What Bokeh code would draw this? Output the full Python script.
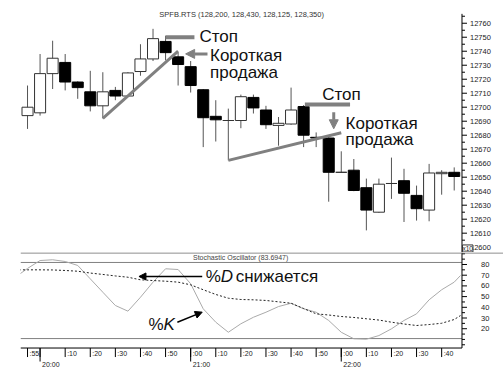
from bokeh.plotting import figure
from bokeh.layouts import column
from bokeh.models import (ColumnDataSource, Range1d, Span, Arrow, NormalHead, Label)
from bokeh.core.properties import value
from bokeh.embed import file_html
from bokeh.resources import INLINE

# ---------------- data ----------------
candle_times = ["19:55", "20:00", "20:05", "20:10", "20:15", "20:20", "20:25", "20:30",
                "20:35", "20:40", "20:45", "20:50", "20:55", "21:00", "21:05", "21:10",
                "21:15", "21:20", "21:25", "21:30", "21:35", "21:40", "21:45", "21:50",
                "21:55", "22:00", "22:05", "22:10", "22:15", "22:20", "22:25", "22:30",
                "22:35", "22:40", "22:45"]
opens = [12694, 12696, 12724, 12732, 12718, 12711, 12701, 12712, 12708, 12725.5, 12734.5,
         12747, 12736, 12729, 12712.5, 12693.5, 12690.5, 12690.5, 12707, 12698, 12687,
         12688, 12700.5, 12678.5, 12678, 12653.5, 12655, 12642.5, 12625, 12645.5, 12647.5,
         12637, 12626.5, 12652.5, 12653.5]
highs = [12715.5, 12738, 12747.5, 12738, 12718.5, 12726, 12725, 12714.5, 12725, 12745,
         12756, 12751, 12739, 12733, 12713, 12705, 12699, 12709, 12709, 12701, 12693,
         12714, 12701.5, 12682, 12679, 12668.5, 12663, 12649, 12649, 12664, 12656, 12644,
         12659.5, 12655, 12657]
lows = [12684.5, 12694, 12713, 12712, 12706, 12697, 12692, 12705, 12707.5, 12722.5, 12733,
        12733.5, 12715.5, 12710.5, 12671.5, 12675.5, 12662, 12685, 12695.5, 12684.5,
        12672.5, 12687.5, 12671.5, 12671.5, 12632.5, 12653, 12640, 12612, 12624.5,
        12634.5, 12618, 12619, 12618.5, 12637.5, 12640.5]
closes = [12700, 12724, 12735, 12718, 12714, 12701, 12711, 12708, 12724.5, 12734.5, 12749,
          12739, 12730.5, 12715.5, 12692.5, 12691, 12690.5, 12707.5, 12699.5, 12687.5,
          12688.5, 12698, 12680, 12678, 12653.5, 12653.5, 12640.5, 12626.5, 12645, 12645.5,
          12638.5, 12627.5, 12653, 12653.5, 12650.5]

osc_times = ["19:50"] + candle_times + ["22:47.5"]
k_values = [67.9, 76.3, 83.7, 84.4, 82.8, 79.1, 66.6, 54.1, 41.7, 36.4, 49.4, 63.5, 76.0,
            75.3, 62.0, 38.6, 26.1, 16.7, 24.6, 30.7, 35.4, 40.7, 43.8, 38.6, 35.4, 27.7,
            16.7, 10.6, 10.2, 13.6, 19.9, 27.7, 33.9, 47.0, 56.4, 63.5, 69.7]
d_values = [75.0, 75.0, 75.0, 74.9, 74.4, 73.7, 72.0, 70.7, 69.3, 68.1, 65.7, 65.0, 64.4,
            63.5, 61.0, 56.4, 52.0, 48.5, 47.3, 47.0, 46.4, 45.1, 43.8, 38.9, 33.9, 32.8,
            31.4, 30.5, 29.3, 28.1, 26.1, 24.4, 23.0, 23.9, 25.1, 28.6, 32.3]

time_ticks = ["19:55", "20:00", "20:10", "20:20", "20:30", "20:40", "20:50", "21:00",
              "21:10", "21:20", "21:30", "21:40", "21:50", "22:00", "22:10", "22:20",
              "22:30", "22:40"]
time_tick_labels = [":55", "", ":10", ":20", ":30", ":40", ":50", ":00", ":10", ":20",
                    ":30", ":40", ":50", ":00", ":10", ":20", ":30", ":40"]
hour_ticks = ["20:00", "21:00", "22:00"]
hour_labels = ["20:00", "21:00", "22:00"]
price_ticks = [12600, 12610, 12620, 12630, 12640, 12650, 12660, 12670, 12680, 12690,
               12700, 12710, 12720, 12730, 12740, 12750, 12760]
price_minor = [12605, 12615, 12625, 12635, 12645, 12655, 12665, 12675, 12685, 12695,
               12705, 12715, 12725, 12735, 12745, 12755, 12765]
osc_ticks = [20, 30, 40, 50, 60, 70, 80]
osc_minor = [5, 10, 15, 25, 35, 45, 55, 65, 75, 85, 90]

title_text = "SPFB.RTS (128,200, 128,430, 128,125, 128,350)"
osc_title = "Stochastic Oscillator (83.6947)"

# annotation anchors (time, price)
trend1_t = ["20:25", "20:55"]
trend1_p = [12692, 12740]
trend2_t = ["21:15", "22:00"]
trend2_p = [12662, 12681.7]
stop1_t = ["20:50", "21:01.5"]
stop1_p = [12750, 12750]
stop2_t = ["21:45.5", "22:03.5"]
stop2_p = [12702, 12702]


def tm(s):
    h, m = s.split(":")
    return (int(h) - 20) * 60 + float(m)


FONT = value("Liberation Sans")
GRAY = "#808080"
W = 503
LEFT = 20
PXM = 2.5099                 # pixels per minute
X0 = -7.8
X1 = X0 + (W - LEFT) / PXM
T_AX = 168.1                 # time position of the right-hand value axis
MAJ = 5 / PXM
MIN = 3 / PXM

x_range = Range1d(X0, X1)


def draw_value_axis(p, lo, hi, ticks, minor, label_offset):
    p.segment(x0=[T_AX], y0=[lo], x1=[T_AX], y1=[hi], line_color="black", line_width=1)
    p.segment(x0=[T_AX] * len(ticks), y0=ticks, x1=[T_AX + MAJ] * len(ticks), y1=ticks,
              line_color="black", line_width=1)
    p.segment(x0=[T_AX] * len(minor), y0=minor, x1=[T_AX + MIN] * len(minor), y1=minor,
              line_color="black", line_width=1)
    p.text(x=[T_AX] * len(ticks), y=ticks, text=[str(t) for t in ticks], text_font=FONT,
           text_font_size="7.5px", text_align="left", text_baseline="middle",
           x_offset=label_offset, text_color="#222222")


# ---------------- price panel ----------------
p1 = figure(width=W, height=252, x_range=x_range, y_range=Range1d(12596.2, 12769.1),
            output_backend="svg", toolbar_location=None, x_axis_location=None,
            y_axis_location=None, min_border_left=LEFT, min_border_right=0,
            min_border_top=10, min_border_bottom=0, outline_line_color=None)
p1.grid.visible = False

ct = [tm(s) for s in candle_times]
up = [c >= o for o, c in zip(opens, closes)]
src = ColumnDataSource(dict(
    t=ct, high=highs, low=lows,
    top=[max(o, c) for o, c in zip(opens, closes)],
    bottom=[min(o, c) for o, c in zip(opens, closes)],
    fill=["white" if u else "black" for u in up],
    line=["#333333" if u else "black" for u in up],
))
p1.segment(x0="t", y0="low", x1="t", y1="high", source=src, line_color="#555555",
           line_width=1)
p1.vbar(x="t", width=4.4, top="top", bottom="bottom", source=src, fill_color="fill",
        line_color="line", line_width=1)

draw_value_axis(p1, 12596.2, 12766.7, price_ticks, price_minor, 8)

p1.text(x=[80.3], y=[12766.2], text=[title_text], text_font=FONT, text_font_size="7.5px",
        text_align="center", text_baseline="middle", text_color="#333333")

p1.line([tm(s) for s in trend1_t], trend1_p, line_color=GRAY, line_width=3)
p1.line([tm(s) for s in trend2_t], trend2_p, line_color=GRAY, line_width=3)
p1.line([tm(s) for s in stop1_t], stop1_p, line_color=GRAY, line_width=4)
p1.line([tm(s) for s in stop2_t], stop2_p, line_color=GRAY, line_width=4)

p1.add_layout(Arrow(x_start=66.7, y_start=12738.1, x_end=58.0, y_end=12738.1,
                    line_color=GRAY, line_width=3,
                    end=NormalHead(size=9, fill_color=GRAY, line_color=GRAY)))
p1.add_layout(Arrow(x_start=117.0, y_start=12696.4, x_end=117.0, y_end=12684.6,
                    line_color=GRAY, line_width=3,
                    end=NormalHead(size=9, fill_color=GRAY, line_color=GRAY)))

txt = dict(text_font=FONT, text_font_size="17px", text_align="left",
           text_baseline="alphabetic", text_color="#111111", y_offset=-4)
p1.text(x=[63.5, 67.7, 67.7], y=[12747.6, 12734.4, 12721.9],
        text=["Стоп", "Короткая", "продажа"], **txt)
p1.text(x=[112.4, 121.7, 121.7], y=[12706.2, 12685.7, 12673.9],
        text=["Стоп", "Короткая", "продажа"], **txt)

p1.add_layout(Label(x=T_AX, y=12599.1, text="x10", text_font="Liberation Sans",
                    text_font_size="6.5px", text_baseline="middle", x_offset=0.5,
                    level="overlay", text_color="#222222",
                    border_line_color="#333333", background_fill_color="white"))

# ---------------- oscillator panel ----------------
p2 = figure(width=W, height=120, x_range=x_range, y_range=Range1d(-20.9, 91.2),
            output_backend="svg", toolbar_location=None, x_axis_location=None,
            y_axis_location=None, min_border_left=LEFT, min_border_right=0,
            min_border_top=0, min_border_bottom=0, outline_line_color=None)
p2.grid.visible = False

p2.add_layout(Span(location=90.75, dimension="width", line_color="#666666", line_width=1))
p2.segment(x0=[X0, X0], y0=[81.9, 10.8], x1=[T_AX, T_AX], y1=[81.9, 10.8],
           line_color=GRAY, line_width=1)
p2.segment(x0=[X0], y0=[1.96], x1=[T_AX], y1=[1.96], line_color="black", line_width=1)

ot = [tm(s) for s in osc_times]
p2.line(ot, k_values, line_color="#aaaaaa", line_width=1)
p2.line(ot, d_values, line_color="#222222", line_width=1, line_dash="2 2")

draw_value_axis(p2, 1.96, 91.2, osc_ticks, osc_minor, 19)

p2.text(x=[79.9], y=[86.5], text=[osc_title], text_font=FONT, text_font_size="7px",
        text_align="center", text_baseline="middle", text_color="#444444")

# time axis drawn in the lower strip
tt = [tm(s) for s in time_ticks]
ht = [tm(s) for s in hour_ticks]
p2.segment(x0=tt, y0=[1.96] * len(tt), x1=tt, y1=[-6.45] * len(tt), line_color="black",
           line_width=1)
p2.segment(x0=ht, y0=[1.96] * len(ht), x1=ht, y1=[-10.65] * len(ht), line_color="black",
           line_width=1)
p2.text(x=tt, y=[-3.2] * len(tt), text=time_tick_labels, text_font=FONT,
        text_font_size="7px", text_align="left", text_baseline="middle", x_offset=2,
        text_color="#222222")
p2.text(x=ht, y=[-13.0] * len(ht), text=hour_labels, text_font=FONT,
        text_font_size="7px", text_align="left", text_baseline="middle", x_offset=2,
        text_color="#222222")

# %D / %K annotations
big = dict(text_font=FONT, text_font_size="17px", text_align="left",
           text_baseline="alphabetic", text_color="#111111")
p2.text(x=[66.0], y=[65.0], text=["%"], y_offset=-4, **big)
p2.text(x=[66.0], y=[65.0], text=["D"], x_offset=15, y_offset=-4,
        text_font_style="italic", **big)
p2.text(x=[66.0], y=[65.0], text=["снижается"], x_offset=30, y_offset=-4, **big)
p2.text(x=[43.2], y=[20.2], text=["%"], y_offset=-4, **big)
p2.text(x=[43.2], y=[20.2], text=["K"], x_offset=15, y_offset=-4,
        text_font_style="italic", **big)

p2.add_layout(Arrow(x_start=64.6, y_start=68.8, x_end=39.4, y_end=68.8,
                    line_color="black", line_width=1.5,
                    end=NormalHead(size=7, fill_color="black", line_color="black")))
p2.add_layout(Arrow(x_start=54.7, y_start=26.1, x_end=64.6, y_end=35.5,
                    line_color="black", line_width=1.5,
                    end=NormalHead(size=7, fill_color="black", line_color="black")))

layout = column(p1, p2, spacing=0)
open("out.html", "w").write(file_html(layout, INLINE))
